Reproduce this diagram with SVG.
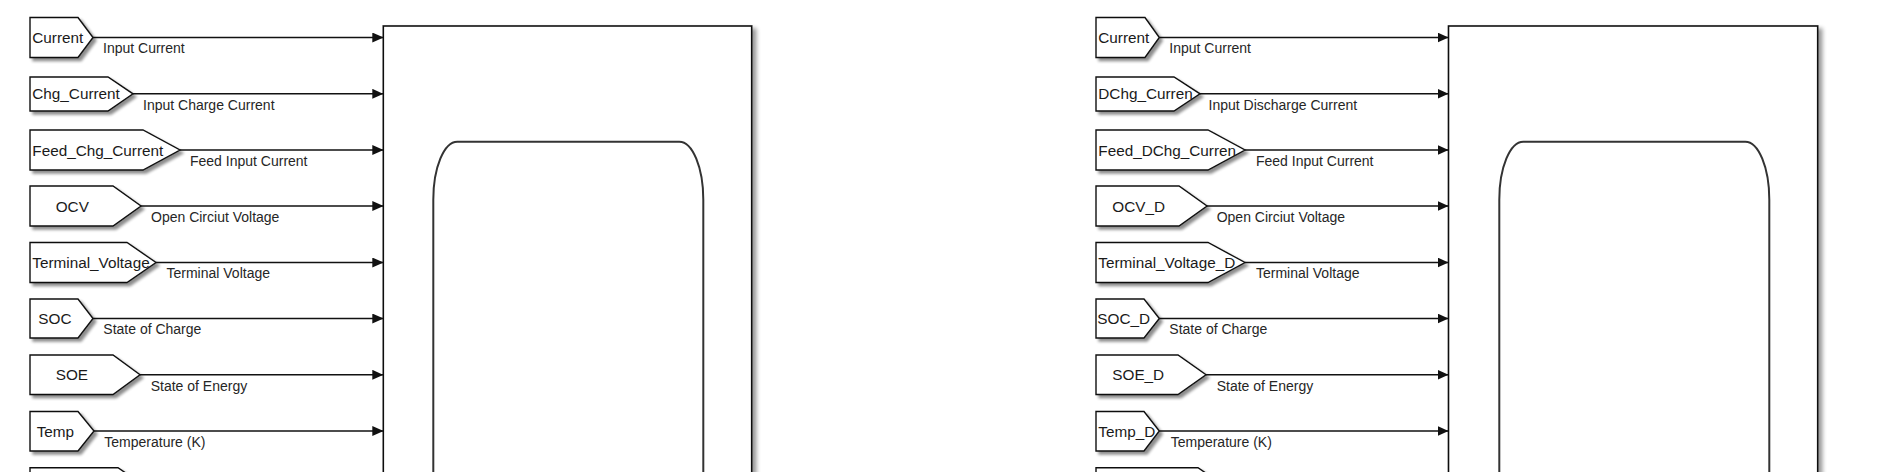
<svg xmlns="http://www.w3.org/2000/svg" width="1878" height="472" viewBox="0 0 1878 472">
<style>
.tag{fill:#fff;stroke:#111;stroke-width:1.4;filter:url(#sh)}
.tt{font-family:"Liberation Sans",Arial,sans-serif;font-size:15.3px;fill:#1a1a1a}
.lb{font-family:"Liberation Sans",Arial,sans-serif;font-size:14px;fill:#262626}
.ln{stroke:#111;stroke-width:1.4;fill:none;marker-end:url(#ah)}
.blk{fill:#fff;stroke:#111;stroke-width:1.6;filter:url(#shb)}
.inner{fill:none;stroke:#333;stroke-width:2}
</style>
<defs>
<filter id="sh" x="-10%" y="-20%" width="130%" height="150%">
<feGaussianBlur in="SourceAlpha" stdDeviation="1.5"/>
<feOffset dx="2.5" dy="2.5" result="b"/>
<feComponentTransfer><feFuncA type="linear" slope="0.45"/></feComponentTransfer>
<feMerge><feMergeNode/><feMergeNode in="SourceGraphic"/></feMerge>
</filter>
<filter id="shb" x="-5%" y="-5%" width="110%" height="110%">
<feGaussianBlur in="SourceAlpha" stdDeviation="2"/>
<feOffset dx="4" dy="3" result="b"/>
<feComponentTransfer><feFuncA type="linear" slope="0.4"/></feComponentTransfer>
<feMerge><feMergeNode/><feMergeNode in="SourceGraphic"/></feMerge>
</filter>
<marker id="ah" markerUnits="userSpaceOnUse" markerWidth="11" markerHeight="10" refX="11" refY="5" orient="auto">
<path d="M0,0 L11,5 L0,10 Z" fill="#111"/>
</marker>
</defs>

<g id="block-charge">
<rect class="blk" x="383.3" y="26" width="368.4" height="480"/>
<path class="inner" d="M433.3,520 V199.7 A24,58 0 0 1 457.3,141.7 H679.3 A24,58 0 0 1 703.3,199.7 V520"/>
</g>
<g id="block-discharge">
<rect class="blk" x="1448.5" y="26" width="369.2" height="480"/>
<path class="inner" d="M1499.3,520 V199.7 A24,58 0 0 1 1523.3,141.7 H1745.3 A24,58 0 0 1 1769.3,199.7 V520"/>
</g>

<g id="connectors">
<path class="ln" d="M93,37.5 H383.3"/>
<path class="ln" d="M133,93.8 H383.3"/>
<path class="ln" d="M180,150 H383.3"/>
<path class="ln" d="M141,206 H383.3"/>
<path class="ln" d="M156,262.5 H383.3"/>
<path class="ln" d="M93,318.5 H383.3"/>
<path class="ln" d="M140,374.8 H383.3"/>
<path class="ln" d="M94,431 H383.3"/>
<path class="ln" d="M1159.3,37.5 H1448.5"/>
<path class="ln" d="M1200,93.8 H1448.5"/>
<path class="ln" d="M1245,150 H1448.5"/>
<path class="ln" d="M1207,206 H1448.5"/>
<path class="ln" d="M1245,262.5 H1448.5"/>
<path class="ln" d="M1159.3,318.5 H1448.5"/>
<path class="ln" d="M1206,374.8 H1448.5"/>
<path class="ln" d="M1159.3,431 H1448.5"/>
</g>

<g id="labels">
<text class="lb" x="103" y="53.3">Input Current</text>
<text class="lb" x="143" y="109.6">Input Charge Current</text>
<text class="lb" x="190" y="165.8">Feed Input Current</text>
<text class="lb" x="151" y="221.8">Open Circiut Voltage</text>
<text class="lb" x="166.5" y="278.3">Terminal Voltage</text>
<text class="lb" x="103.3" y="334.3">State of Charge</text>
<text class="lb" x="150.7" y="390.6">State of Energy</text>
<text class="lb" x="104.3" y="446.8">Temperature (K)</text>
<text class="lb" x="1169.3" y="53.3">Input Current</text>
<text class="lb" x="1208.5" y="109.6">Input Discharge Current</text>
<text class="lb" x="1256" y="165.8">Feed Input Current</text>
<text class="lb" x="1216.7" y="221.8">Open Circiut Voltage</text>
<text class="lb" x="1256" y="278.3">Terminal Voltage</text>
<text class="lb" x="1169.3" y="334.3">State of Charge</text>
<text class="lb" x="1216.7" y="390.6">State of Energy</text>
<text class="lb" x="1170.7" y="446.8">Temperature (K)</text>
</g>

<g id="tag-current"><path class="tag" d="M30,17.5 H78 L93,37.5 L78,57.5 H30 Z"/><text class="tt" x="32.3" y="43">Current</text></g>
<g id="tag-chg-current"><path class="tag" d="M30,77 H108 L133,93.8 L108,111 H30 Z"/><text class="tt" x="32.3" y="99.3">Chg_Current</text></g>
<g id="tag-feed-chg-current"><path class="tag" d="M30,130 H143 L180,150 L143,170 H30 Z"/><text class="tt" x="32.3" y="155.5">Feed_Chg_Current</text></g>
<g id="tag-ocv"><path class="tag" d="M30,186 H113 L141,206 L113,226 H30 Z"/><text class="tt" x="55.7" y="211.5">OCV</text></g>
<g id="tag-terminal-voltage"><path class="tag" d="M30,242.5 H127 L156,262.5 L127,282.5 H30 Z"/><text class="tt" x="32.3" y="268">Terminal_Voltage</text></g>
<g id="tag-soc"><path class="tag" d="M30,299 H78 L93,318.5 L78,338 H30 Z"/><text class="tt" x="38.3" y="324">SOC</text></g>
<g id="tag-soe"><path class="tag" d="M30,355 H113 L140,374.8 L113,394.5 H30 Z"/><text class="tt" x="55.7" y="380.3">SOE</text></g>
<g id="tag-temp"><path class="tag" d="M30,411.5 H78 L94,431 L78,451 H30 Z"/><text class="tt" x="36.7" y="436.5">Temp</text></g>
<g id="tag-9"><path class="tag" d="M30,467.7 H118 L147,487.7 L118,507.7 H30 Z"/></g>

<g id="tag-current-d"><path class="tag" d="M1096,17.5 H1145 L1159.3,37.5 L1145,57.5 H1096 Z"/><text class="tt" x="1098.3" y="43">Current</text></g>
<g id="tag-dchg-current"><path class="tag" d="M1096,77 H1174 L1200,93.8 L1174,111 H1096 Z"/><text class="tt" x="1098.3" y="99.3">DChg_Curren</text></g>
<g id="tag-feed-dchg-current"><path class="tag" d="M1096,130 H1208 L1245,150 L1208,170 H1096 Z"/><text class="tt" x="1098.3" y="155.5">Feed_DChg_Curren</text></g>
<g id="tag-ocv-d"><path class="tag" d="M1096,186 H1179 L1207,206 L1179,226 H1096 Z"/><text class="tt" x="1112.3" y="211.5">OCV_D</text></g>
<g id="tag-terminal-voltage-d"><path class="tag" d="M1096,242.5 H1208 L1245,262.5 L1208,282.5 H1096 Z"/><text class="tt" x="1098.3" y="268">Terminal_Voltage_D</text></g>
<g id="tag-soc-d"><path class="tag" d="M1096,299 H1144 L1159.3,318.5 L1144,338 H1096 Z"/><text class="tt" x="1097.3" y="324">SOC_D</text></g>
<g id="tag-soe-d"><path class="tag" d="M1096,355 H1178 L1206,374.8 L1178,394.5 H1096 Z"/><text class="tt" x="1112.3" y="380.3">SOE_D</text></g>
<g id="tag-temp-d"><path class="tag" d="M1096,411.5 H1144 L1159.3,431 L1144,451 H1096 Z"/><text class="tt" x="1098.3" y="436.5">Temp_D</text></g>
<g id="tag-9-d"><path class="tag" d="M1096,467.7 H1198 L1227,487.7 L1198,507.7 H1096 Z"/></g>
</svg>
